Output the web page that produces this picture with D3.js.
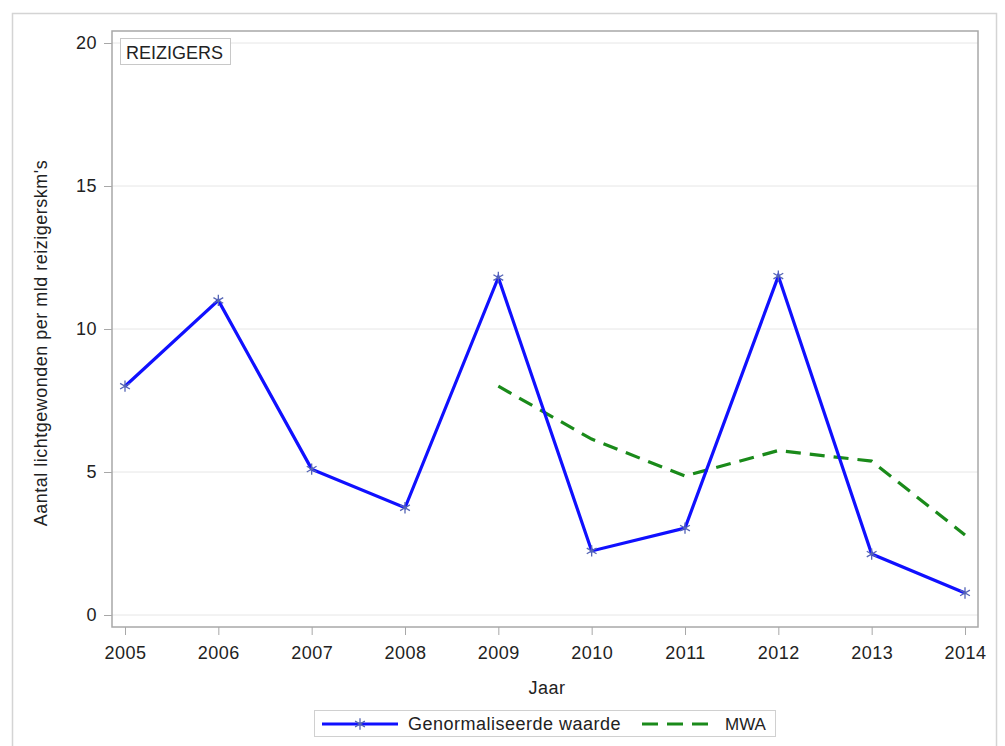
<!DOCTYPE html>
<html>
<head>
<meta charset="utf-8">
<script src="https://cdn.jsdelivr.net/npm/d3@7"></script>
<style>
  body { margin: 0; background: #fff; }
  text { font-family: Arial, "Liberation Sans", sans-serif; fill: #222; }
</style>
</head>
<body>
<svg id="chart" width="1005" height="746"></svg>
<script>
const years = [2005, 2006, 2007, 2008, 2009, 2010, 2011, 2012, 2013, 2014];
const genormaliseerd = [8.0, 11.0, 5.1, 3.75, 11.8, 2.24, 3.04, 11.85, 2.13, 0.77];
const mwaYears = [2009, 2010, 2011, 2012, 2013, 2014];
const mwa = [8.0, 6.15, 4.86, 5.75, 5.38, 2.8];
const yTicks = [0, 5, 10, 15, 20];

const svg = d3.select('#chart');
const frame = {left: 112, top: 31, right: 978, bottom: 627};

// outer border
svg.append('rect')
    .attr('x', 12.5).attr('y', 13.5)
    .attr('width', 984).attr('height', 760)
    .attr('fill', 'none').attr('stroke', '#d4d4d4').attr('stroke-width', 1.5);

const x = d3.scaleLinear().domain([2005, 2014]).range([125, 965]);
const y = d3.scaleLinear().domain([0, 20]).range([615, 43]);

// gridlines
svg.append('g').selectAll('line')
    .data(yTicks)
    .enter().append('line')
    .attr('x1', frame.left).attr('x2', frame.right)
    .attr('y1', d => y(d)).attr('y2', d => y(d))
    .attr('stroke', '#e6e6e6').attr('stroke-width', 1);

// frame
svg.append('rect')
    .attr('x', frame.left).attr('y', frame.top)
    .attr('width', frame.right - frame.left).attr('height', frame.bottom - frame.top)
    .attr('fill', 'none').attr('stroke', '#a8a8a8').attr('stroke-width', 1.5);

// axes
const yAxis = svg.append('g')
    .attr('transform', `translate(${frame.left},0)`)
    .call(d3.axisLeft(y).tickValues(yTicks).tickSize(8).tickPadding(7));
const xAxis = svg.append('g')
    .attr('transform', `translate(0,${frame.bottom})`)
    .call(d3.axisBottom(x).tickValues(years).tickFormat(d3.format('d')).tickSize(8).tickPadding(11));
[yAxis, xAxis].forEach(a => {
    a.select('.domain').remove();
    a.selectAll('.tick line').attr('stroke', '#a8a8a8');
    a.selectAll('.tick text').style('font-size', '18px').style('fill', '#222')
        .style('letter-spacing', '0.5px')
        .style('font-family', 'Arial, "Liberation Sans", sans-serif');
});

// axis titles
svg.append('text')
    .attr('transform', `translate(47,343) rotate(-90)`)
    .attr('text-anchor', 'middle')
    .style('font-size', '18px').style('letter-spacing', '0.5px')
    .text("Aantal lichtgewonden per mld reizigerskm's");
svg.append('text')
    .attr('x', (frame.left + frame.right) / 2 + 2).attr('y', 694)
    .attr('text-anchor', 'middle')
    .style('font-size', '18px').style('letter-spacing', '0.5px')
    .text('Jaar');

// REIZIGERS label
svg.append('rect')
    .attr('x', 120.5).attr('y', 38.5).attr('width', 110).attr('height', 26)
    .attr('fill', '#fff').attr('stroke', '#c8c8c8');
svg.append('text')
    .attr('x', 126).attr('y', 59)
    .style('font-size', '18px')
    .text('REIZIGERS');

// MWA line
const lineMwa = d3.line().x((d, i) => x(mwaYears[i])).y(d => y(d));
svg.append('path')
    .datum(mwa)
    .attr('d', lineMwa)
    .attr('fill', 'none').attr('stroke', '#1a8a1a')
    .attr('stroke-width', 3.2).attr('stroke-dasharray', '15,9');

// Genormaliseerde waarde line
const lineGen = d3.line().x((d, i) => x(years[i])).y(d => y(d));
svg.append('path')
    .datum(genormaliseerd)
    .attr('d', lineGen)
    .attr('fill', 'none').attr('stroke', '#1010ff')
    .attr('stroke-width', 3.2);

const asterisk = d3.symbol().type(d3.symbolAsterisk).size(90);
svg.append('g').selectAll('path')
    .data(genormaliseerd)
    .enter().append('path')
    .attr('d', asterisk)
    .attr('transform', (d, i) => `translate(${x(years[i])},${y(d)})`)
    .attr('fill', 'none').attr('stroke', '#5565b5').attr('stroke-width', 1.3);

// legend
const lg = svg.append('g');
lg.append('rect')
    .attr('x', 314.5).attr('y', 710.5).attr('width', 461).attr('height', 26)
    .attr('fill', '#fff').attr('stroke', '#d0d0d0');
lg.append('line')
    .attr('x1', 322).attr('x2', 398).attr('y1', 724).attr('y2', 724)
    .attr('stroke', '#1010ff').attr('stroke-width', 3.2);
lg.append('path')
    .attr('d', asterisk)
    .attr('transform', 'translate(360,724)')
    .attr('fill', 'none').attr('stroke', '#5565b5').attr('stroke-width', 1.3);
lg.append('text')
    .attr('x', 408).attr('y', 730)
    .style('font-size', '18px').style('letter-spacing', '0.5px')
    .text('Genormaliseerde waarde');
lg.append('line')
    .attr('x1', 642).attr('x2', 710).attr('y1', 724).attr('y2', 724)
    .attr('stroke', '#1a8a1a').attr('stroke-width', 3.2)
    .attr('stroke-dasharray', '16,9');
lg.append('text')
    .attr('x', 725).attr('y', 730)
    .style('font-size', '17px')
    .text('MWA');
</script>
</body>
</html>
